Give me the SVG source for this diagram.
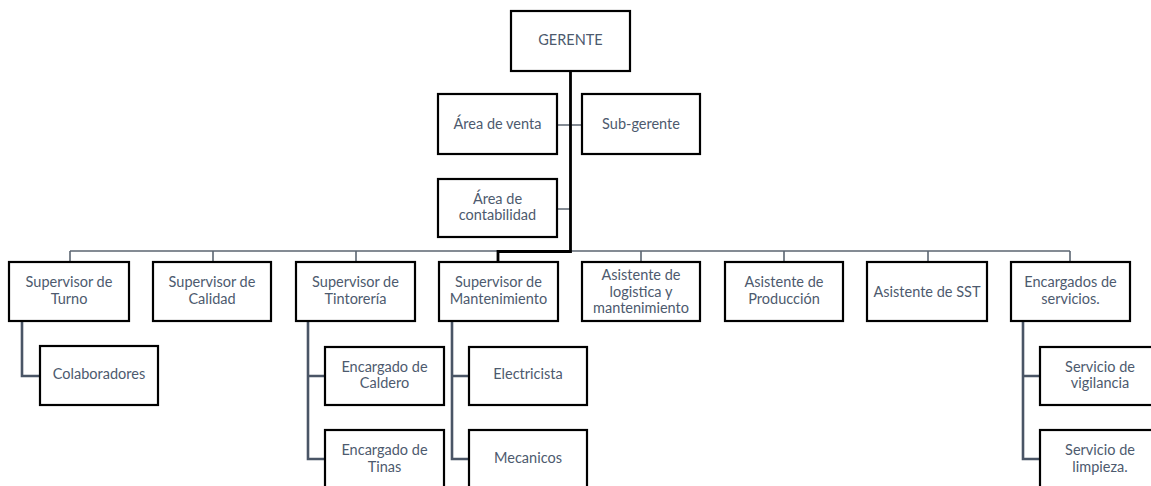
<svg xmlns="http://www.w3.org/2000/svg" width="1151" height="486" viewBox="0 0 1151 486">
<style>
.box{fill:#fff;stroke:#000;stroke-width:2.2}
.t{font-family:Lato,"Liberation Sans",sans-serif;font-size:14.5px;fill:#4d5a6e;text-anchor:middle}
.bus{fill:none;stroke:#5c6672;stroke-width:1.6}
.trunk{fill:none;stroke:#000;stroke-width:2.8}
.sub{fill:none;stroke:#4a5566;stroke-width:2.6}
</style>
<rect width="1151" height="486" fill="#fff"/>
<g id="connectors">
<path class="bus" d="M70,251 H1070 M70,251 V262 M213,251 V262 M356,251 V262 M641,251 V262 M784,251 V262 M928,251 V262 M1070,251 V262"/>
<path class="bus" d="M557,125 H582 M557,209 H570"/>
<path class="trunk" d="M570.5,71 V251.5 H498 V262"/>
<path class="sub" d="M22,321 V376 H40"/>
<path class="sub" d="M308,321 V459 H325 M308,376 H325"/>
<path class="sub" d="M452,321 V459 H469 M452,376 H469"/>
<path class="sub" d="M1023,321 V459 H1040 M1023,376 H1040"/>
</g>
<g id="gerente"><rect class="box" x="511" y="11" width="119" height="60"/><text class="t" x="570.5" y="45">GERENTE</text></g>
<g id="area-venta"><rect class="box" x="438" y="94" width="119" height="60"/><text class="t" x="497.5" y="129">Área de venta</text></g>
<g id="sub-gerente"><rect class="box" x="582" y="94" width="118" height="60"/><text class="t" x="641" y="129">Sub-gerente</text></g>
<g id="area-contabilidad"><rect class="box" x="438" y="179" width="119" height="58"/><text class="t" x="497.5" y="204">Área de</text><text class="t" x="497.5" y="220">contabilidad</text></g>
<g id="sup-turno"><rect class="box" x="9" y="262" width="120" height="59"/><text class="t" x="69" y="287">Supervisor de</text><text class="t" x="69" y="304">Turno</text></g>
<g id="sup-calidad"><rect class="box" x="153" y="262" width="118" height="59"/><text class="t" x="212" y="287">Supervisor de</text><text class="t" x="212" y="304">Calidad</text></g>
<g id="sup-tintoreria"><rect class="box" x="296" y="262" width="119" height="59"/><text class="t" x="355.5" y="287">Supervisor de</text><text class="t" x="355.5" y="304">Tintorería</text></g>
<g id="sup-mantenimiento"><rect class="box" x="439" y="262" width="119" height="59"/><text class="t" x="498.5" y="287">Supervisor de</text><text class="t" x="498.5" y="304">Mantenimiento</text></g>
<g id="asis-logistica"><rect class="box" x="582" y="262" width="118" height="59"/><text class="t" x="641" y="280">Asistente de</text><text class="t" x="641" y="297">logistica y</text><text class="t" x="641" y="313">mantenimiento</text></g>
<g id="asis-produccion"><rect class="box" x="725" y="262" width="118" height="59"/><text class="t" x="784" y="287">Asistente de</text><text class="t" x="784" y="304">Producción</text></g>
<g id="asis-sst"><rect class="box" x="867" y="262" width="120" height="59"/><text class="t" x="927" y="297">Asistente de SST</text></g>
<g id="enc-servicios"><rect class="box" x="1011" y="262" width="119" height="59"/><text class="t" x="1070.5" y="287">Encargados de</text><text class="t" x="1070.5" y="304">servicios.</text></g>
<g id="colaboradores"><rect class="box" x="40" y="346" width="118" height="59"/><text class="t" x="99" y="379">Colaboradores</text></g>
<g id="enc-caldero"><rect class="box" x="325" y="347" width="119" height="58"/><text class="t" x="384.5" y="372">Encargado de</text><text class="t" x="384.5" y="388">Caldero</text></g>
<g id="enc-tinas"><rect class="box" x="325" y="430" width="119" height="70"/><text class="t" x="384.5" y="455">Encargado de</text><text class="t" x="384.5" y="472">Tinas</text></g>
<g id="electricista"><rect class="box" x="469" y="347" width="118" height="58"/><text class="t" x="528" y="379">Electricista</text></g>
<g id="mecanicos"><rect class="box" x="469" y="430" width="118" height="70"/><text class="t" x="528" y="463">Mecanicos</text></g>
<g id="serv-vigilancia"><rect class="box" x="1040" y="347" width="120" height="58"/><text class="t" x="1100" y="372">Servicio de</text><text class="t" x="1100" y="388">vigilancia</text></g>
<g id="serv-limpieza"><rect class="box" x="1040" y="430" width="120" height="70"/><text class="t" x="1100" y="455">Servicio de</text><text class="t" x="1100" y="472">limpieza.</text></g>
</svg>
